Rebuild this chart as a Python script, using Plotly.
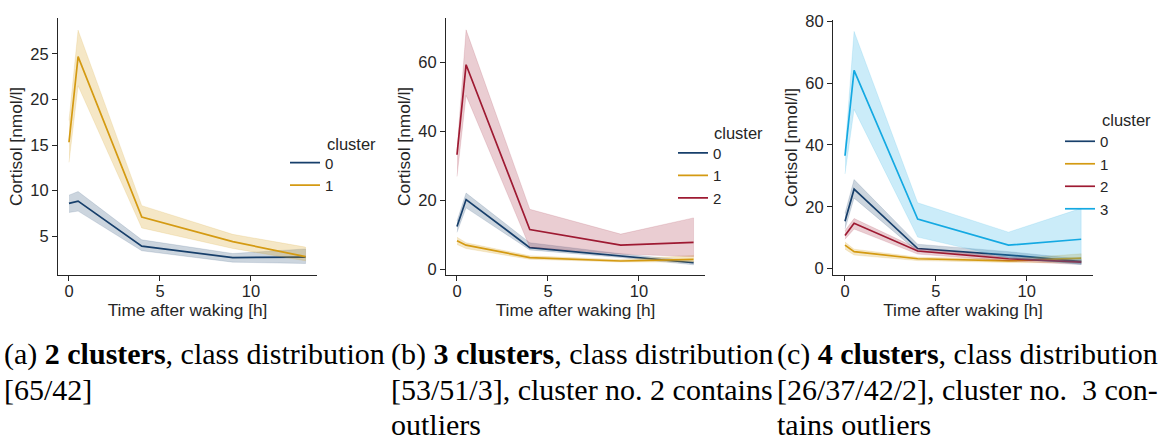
import plotly.graph_objects as go

W, H = 1160, 443

# ---------------- data ----------------
times = [0, 0.5, 4, 9, 13]

# panel (a): 2 clusters
a_mean_0 = [8.6, 8.85, 3.9, 2.65, 2.7]
a_lo_0 = [7.6, 7.75, 3.4, 2.15, 2.0]
a_hi_0 = [9.5, 9.9, 4.6, 3.1, 3.6]
a_mean_1 = [15.3, 24.7, 7.1, 4.4, 2.75]
a_lo_1 = [13.1, 21.5, 5.9, 3.65, 2.3]
a_hi_1 = [17.7, 27.6, 8.35, 5.2, 3.8]

# panel (b): 3 clusters
b_mean_0 = [12.5, 20.3, 6.4, 4.05, 2.0]
b_lo_0 = [10.8, 17.9, 5.7, 3.5, 1.4]
b_hi_0 = [14.1, 22.2, 7.8, 4.6, 2.5]
b_mean_1 = [8.4, 7.1, 3.5, 2.5, 3.0]
b_lo_1 = [7.3, 6.1, 3.0, 2.2, 2.2]
b_hi_1 = [9.4, 7.8, 4.0, 2.9, 4.1]
b_mean_2 = [33.3, 59.4, 11.6, 7.1, 7.9]
b_lo_2 = [27.0, 50.5, 6.5, 4.5, 3.8]
b_hi_2 = [34.5, 69.5, 17.5, 10.3, 15.0]

# panel (c): 4 clusters
c_mean_0 = [15.3, 25.7, 6.5, 4.4, 2.3]
c_lo_0 = [12.8, 22.8, 5.5, 3.6, 1.5]
c_hi_0 = [17.9, 28.8, 7.9, 5.5, 3.1]
c_mean_1 = [7.6, 5.5, 3.2, 2.5, 3.4]
c_lo_1 = [6.3, 4.4, 2.6, 2.0, 1.8]
c_hi_1 = [8.6, 6.3, 3.7, 3.1, 4.8]
c_mean_2 = [10.7, 14.7, 5.7, 3.2, 2.1]
c_lo_2 = [9.5, 12.8, 4.7, 2.5, 1.3]
c_hi_2 = [12.3, 16.2, 6.5, 3.8, 2.7]
c_mean_3 = [36.5, 64.1, 16.0, 7.6, 9.5]
c_lo_3 = [30.6, 51.5, 10.2, 3.4, 1.3]
c_hi_3 = [38.0, 76.7, 21.3, 11.8, 19.5]

cluster_names = ["0", "1", "2", "3"]
colors = ["#173f6b", "#d49a12", "#9e1a32", "#14a9e2"]
fills = ["rgba(23,63,107,0.22)", "rgba(212,154,18,0.24)", "rgba(158,26,50,0.22)", "rgba(20,169,226,0.22)"]

x_ticks = [0, 5, 10]
a_yticks = [5, 10, 15, 20, 25]
b_yticks = [0, 20, 40, 60]
c_yticks = [0, 20, 40, 60, 80]

captions = [
    ("(a) <b>2 clusters</b>, class distribution", "[65/42]", ""),
    ("(b) <b>3 clusters</b>, class distribution", "[53/51/3], cluster no. 2 contains", "outliers"),
    ("(c) <b>4 clusters</b>, class distribution", "[26/37/42/2], cluster no.\u00a0 3 con-", "tains outliers"),
]

panels = [
    ([(a_mean_0, a_lo_0, a_hi_0), (a_mean_1, a_lo_1, a_hi_1)], a_yticks),
    ([(b_mean_0, b_lo_0, b_hi_0), (b_mean_1, b_lo_1, b_hi_1), (b_mean_2, b_lo_2, b_hi_2)], b_yticks),
    ([(c_mean_0, c_lo_0, c_hi_0), (c_mean_1, c_lo_1, c_hi_1), (c_mean_2, c_lo_2, c_hi_2),
      (c_mean_3, c_lo_3, c_hi_3)], c_yticks),
]

# ---------------- layout geometry (pixels) ----------------
px_x = [(58, 317), (446, 705), (833, 1093)]
px_y = [(10, 274), (10, 274), (12, 274)]
x_ranges = [(-0.604, 13.63), (-0.604, 13.63), (-0.66, 13.65)]
y_ranges = [(0.72, 28.96), (-1.61, 73.0), (-2.12, 80.5)]
legend_left = [285, 673, 1060]
legend_top = [142, 132, 120]
title_pos = [(325, 139), (712, 128), (1100, 115)]
cap_left = [2, 389, 775]
cap_y = [355, 391, 427]

TXT = "#262626"
SANS = "Liberation Sans, Arial, sans-serif"
SERIF = "Liberation Serif, Times New Roman, serif"

fig = go.Figure()
layout = dict(
    width=W, height=H, margin=dict(l=0, r=0, t=0, b=0),
    paper_bgcolor="white", plot_bgcolor="white",
    font=dict(family=SANS, size=17, color=TXT),
    annotations=[],
)

for p, (series, yticks) in enumerate(panels):
    sfx = "" if p == 0 else str(p + 1)
    xa, ya = "x" + sfx, "y" + sfx
    leg = "legend" + sfx
    for k, (mean, lo, hi) in enumerate(series):
        fig.add_trace(go.Scatter(
            x=times + times[::-1], y=hi + lo[::-1], xaxis=xa, yaxis=ya,
            fill="toself", fillcolor=fills[k], line=dict(width=0.6, color=fills[k]),
            mode="lines", hoverinfo="skip", showlegend=False, legend=leg,
        ))
        fig.add_trace(go.Scatter(
            x=times, y=mean, xaxis=xa, yaxis=ya, mode="lines",
            line=dict(color=colors[k], width=1.7), name=cluster_names[k],
            showlegend=True, legend=leg,
        ))
    xl, xr = px_x[p]
    yt, yb = px_y[p]
    axcommon = dict(showgrid=False, zeroline=False, showline=True, linecolor=TXT, linewidth=1.1,
                    ticks="outside", ticklen=5, tickwidth=1.1, tickcolor=TXT,
                    tickfont=dict(size=16.5, color=TXT), mirror=False)
    layout["xaxis" + sfx] = dict(
        domain=[xl / W, xr / W], anchor=ya, range=list(x_ranges[p]),
        tickvals=x_ticks, ticklabelstandoff=-4,
        title=dict(text="Time after waking [h]", font=dict(size=17.3), standoff=0),
        **axcommon)
    layout["yaxis" + sfx] = dict(
        domain=[1 - yb / H, 1 - yt / H], anchor=xa, range=list(y_ranges[p]),
        tickvals=yticks,
        title=dict(text="Cortisol [nmol/l]", font=dict(size=17.3), standoff=3),
        **axcommon)
    layout[leg] = dict(
        x=legend_left[p] / W, y=1 - legend_top[p] / H, xanchor="left", yanchor="top",
        bgcolor="rgba(0,0,0,0)", font=dict(size=15, color=TXT), tracegroupgap=0,
        itemclick=False, itemdoubleclick=False,
    )
    tx, ty = title_pos[p]
    layout["annotations"].append(dict(
        text="cluster", xref="paper", yref="paper", x=tx / W, y=1 - ty / H,
        xanchor="left", yanchor="middle", showarrow=False, font=dict(size=16.5, color=TXT)))
    for li, line in enumerate(captions[p]):
        if not line:
            continue
        layout["annotations"].append(dict(
            text=line, xref="paper", yref="paper", x=cap_left[p] / W, y=1 - cap_y[li] / H,
            xanchor="left", yanchor="middle", showarrow=False,
            font=dict(family=SERIF, size=30, color="black")))

fig.update_layout(**layout)
fig.write_html("out.html")
